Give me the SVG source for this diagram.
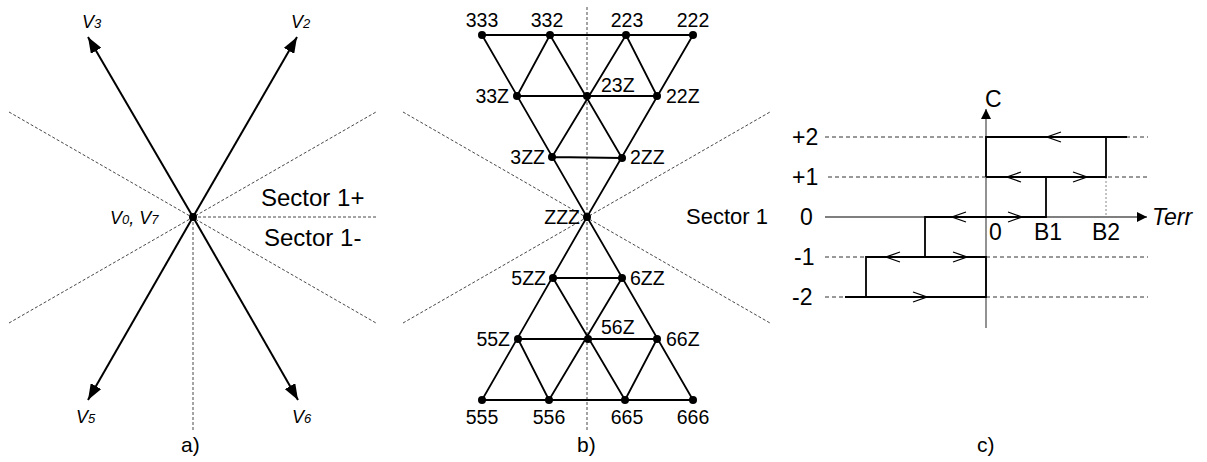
<svg xmlns="http://www.w3.org/2000/svg" width="1207" height="462" viewBox="0 0 1207 462">
<defs>
<marker id="ah" viewBox="0 0 10 10" refX="10" refY="5" markerWidth="10" markerHeight="10" markerUnits="userSpaceOnUse" orient="auto"><path d="M0,0 L10,5 L0,10 Z" fill="#000"/></marker>
<marker id="ahbig" viewBox="0 0 16 12" refX="16" refY="6" markerWidth="16" markerHeight="12" markerUnits="userSpaceOnUse" orient="auto"><path d="M0,0 L16,6 L0,12 Z" fill="#000"/></marker>
</defs>
<style>
.dash{stroke:#333;stroke-width:0.9;stroke-dasharray:3,2;fill:none}
.dashc{stroke:#333;stroke-width:1;stroke-dasharray:4,3;fill:none}
.vec{stroke:#000;stroke-width:2;fill:none}
.edge{stroke:#000;stroke-width:1.8;fill:none}
.hy{stroke:#000;stroke-width:1.8;fill:none}
.chev{stroke:#000;stroke-width:1.3;fill:none}
.t{font-family:"Liberation Sans",Arial,sans-serif;fill:#000}
.n{font-size:19.5px}
.s{font-size:24px}
.vi{font-size:18px;font-style:italic}
.vs{font-size:13px;font-style:italic}
.cap{font-size:21px}
.cl{font-size:23px}
</style>
<rect width="1207" height="462" fill="#fff"/>

<!-- Panel a -->
<g id="panel-a-guides">
<line class="dash" x1="9" y1="112" x2="376" y2="323"/>
<line class="dash" x1="9" y1="323" x2="376" y2="112"/>
<line class="dash" x1="193" y1="217" x2="376" y2="217"/>
<line class="dash" x1="193" y1="217" x2="193" y2="430"/>
</g>
<g id="panel-a-vectors">
<line class="vec" x1="193" y1="217" x2="297" y2="37" marker-end="url(#ahbig)"/>
<line class="vec" x1="193" y1="217" x2="88" y2="37" marker-end="url(#ahbig)"/>
<line class="vec" x1="193" y1="217" x2="88" y2="400" marker-end="url(#ahbig)"/>
<line class="vec" x1="193" y1="217" x2="298" y2="400" marker-end="url(#ahbig)"/>
</g>
<g id="node-v0v7"><circle cx="193" cy="217" r="4"/><text class="t" x="110" y="224"><tspan class="vi">V</tspan><tspan class="vs">0</tspan><tspan class="vi">, V</tspan><tspan class="vs">7</tspan></text></g>
<g id="label-v3"><text class="t" x="82" y="28"><tspan class="vi">V</tspan><tspan class="vs">3</tspan></text></g>
<g id="label-v2"><text class="t" x="291" y="28"><tspan class="vi">V</tspan><tspan class="vs">2</tspan></text></g>
<g id="label-v5"><text class="t" x="76" y="423"><tspan class="vi">V</tspan><tspan class="vs">5</tspan></text></g>
<g id="label-v6"><text class="t" x="292" y="423"><tspan class="vi">V</tspan><tspan class="vs">6</tspan></text></g>
<g id="label-sector1p"><text class="t s" x="261" y="206">Sector 1+</text></g>
<g id="label-sector1m"><text class="t s" x="264" y="246">Sector 1-</text></g>
<text class="t cap" x="181" y="452">a)</text>

<!-- Panel b -->
<g id="panel-b-guides">
<line class="dash" x1="403" y1="112" x2="770" y2="323"/>
<line class="dash" x1="403" y1="323" x2="770" y2="112"/>
<line class="dash" x1="587" y1="7" x2="587" y2="430"/>
</g>
<g id="connectors">
<path class="edge" d="M482,35 L693,35 M517,96 L657,96 M552,157 L622,158 M482,35 L587,217 L693,35 M550,35 L517,96 M550,35 L622,158 M626,35 L552,157 M626,35 L657,96"/>
<path class="edge" d="M482,400 L693,400 M518,339 L657,339 M553,278 L622,278 M482,400 L587,217 L693,400 M549,400 L518,339 M549,400 L622,278 M625,400 L553,278 M625,400 L657,339"/>
</g>
<g id="node-333"><circle cx="482" cy="35" r="4"/><text class="t n" x="482" y="27" text-anchor="middle">333</text></g>
<g id="node-332"><circle cx="550" cy="35" r="4"/><text class="t n" x="547" y="27" text-anchor="middle">332</text></g>
<g id="node-223"><circle cx="626" cy="35" r="4"/><text class="t n" x="627" y="27" text-anchor="middle">223</text></g>
<g id="node-222"><circle cx="693" cy="35" r="4"/><text class="t n" x="693" y="27" text-anchor="middle">222</text></g>
<g id="node-33Z"><circle cx="517" cy="96" r="4"/><text class="t n" x="509" y="103" text-anchor="end">33Z</text></g>
<g id="node-23Z"><circle cx="587" cy="96" r="4"/><text class="t n" x="601" y="92">23Z</text></g>
<g id="node-22Z"><circle cx="657" cy="96" r="4"/><text class="t n" x="666" y="103">22Z</text></g>
<g id="node-3ZZ"><circle cx="552" cy="157" r="4"/><text class="t n" x="545" y="164" text-anchor="end">3ZZ</text></g>
<g id="node-2ZZ"><circle cx="622" cy="158" r="4"/><text class="t n" x="630" y="164">2ZZ</text></g>
<g id="node-ZZZ"><circle cx="587" cy="217" r="4"/><text class="t n" x="580" y="224" text-anchor="end">ZZZ</text></g>
<g id="node-5ZZ"><circle cx="553" cy="278" r="4"/><text class="t n" x="546" y="285" text-anchor="end">5ZZ</text></g>
<g id="node-6ZZ"><circle cx="622" cy="278" r="4"/><text class="t n" x="630" y="285">6ZZ</text></g>
<g id="node-55Z"><circle cx="518" cy="339" r="4"/><text class="t n" x="510" y="346" text-anchor="end">55Z</text></g>
<g id="node-56Z"><circle cx="588" cy="339" r="4"/><text class="t n" x="601" y="334">56Z</text></g>
<g id="node-66Z"><circle cx="657" cy="339" r="4"/><text class="t n" x="666" y="346">66Z</text></g>
<g id="node-555"><circle cx="482" cy="400" r="4"/><text class="t n" x="482" y="424" text-anchor="middle">555</text></g>
<g id="node-556"><circle cx="549" cy="400" r="4"/><text class="t n" x="549" y="424" text-anchor="middle">556</text></g>
<g id="node-665"><circle cx="625" cy="400" r="4"/><text class="t n" x="627" y="424" text-anchor="middle">665</text></g>
<g id="node-666"><circle cx="693" cy="400" r="4"/><text class="t n" x="693" y="424" text-anchor="middle">666</text></g>
<g id="label-sector1"><text class="t" font-size="22" x="686" y="224">Sector 1</text></g>
<text class="t cap" x="577" y="452">b)</text>

<!-- Panel c -->
<g id="panel-c-grid">
<line class="dashc" x1="825" y1="137" x2="1148" y2="137"/>
<line class="dashc" x1="828" y1="177" x2="1148" y2="177"/>
<line class="dashc" x1="825" y1="257" x2="1148" y2="257"/>
<line class="dashc" x1="825" y1="297" x2="1148" y2="297"/>
<line x1="1106" y1="177" x2="1106" y2="217" stroke="#888" stroke-width="1" stroke-dasharray="2,2"/>
</g>
<g id="panel-c-axes">
<line x1="986" y1="328" x2="986" y2="109" stroke="#777" stroke-width="1.6" marker-end="url(#ah)"/>
<line x1="825" y1="217" x2="1147" y2="217" stroke="#000" stroke-width="1.1" marker-end="url(#ah)"/>
</g>
<g id="panel-c-hysteresis">
<path class="hy" d="M986,177 L986,137 L1127,137 M1106,137 L1106,177 L986,177 M1046,177 L1046,217 L925,217 L925,257 L866,257 L866,297 L845,297 M866,257 L986,257 L986,297 L866,297"/>
<path class="chev" d="M1061,132 L1047,137 L1061,142 M1021,172 L1007,177 L1021,182 M1073,172 L1087,177 L1073,182 M966,212 L952,217 L966,222 M1008,212 L1022,217 L1008,222 M900,252 L886,257 L900,262 M953,252 L967,257 L953,262 M913,292 L927,297 L913,302"/>
</g>
<g id="panel-c-labels">
<text class="t cl" x="985" y="107">C</text>
<text class="t cl" x="792" y="145">+2</text>
<text class="t cl" x="792" y="185">+1</text>
<text class="t cl" x="800" y="225">0</text>
<text class="t cl" x="794" y="265">-1</text>
<text class="t cl" x="792" y="305">-2</text>
<text class="t cl" x="989" y="240">0</text>
<text class="t cl" x="1034" y="240">B1</text>
<text class="t cl" x="1092" y="240">B2</text>
<text class="t cl" x="1152" y="225" font-style="italic">Terr</text>
</g>
<text class="t cap" x="977" y="452">c)</text>
</svg>
